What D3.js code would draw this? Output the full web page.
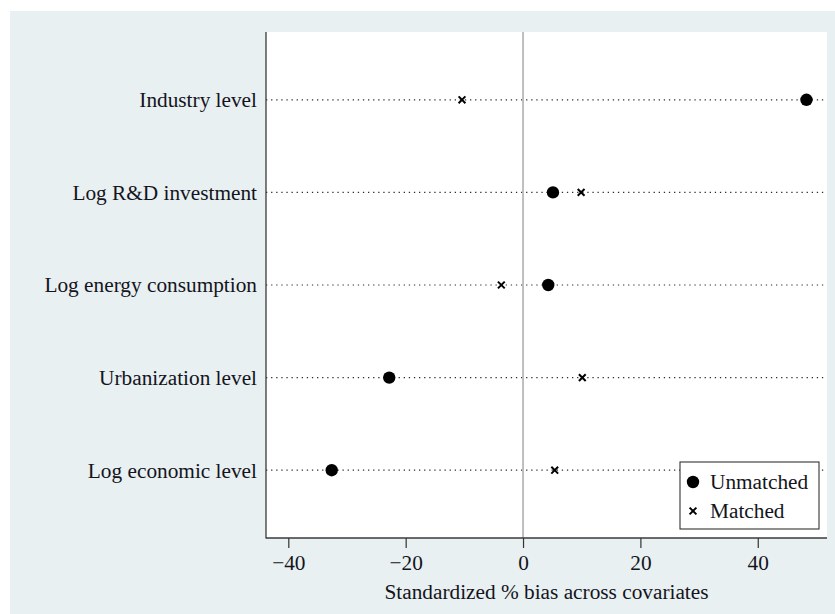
<!DOCTYPE html>
<html>
<head>
<meta charset="utf-8">
<script src="https://cdn.jsdelivr.net/npm/d3@7"></script>
<style>
  html, body { margin: 0; padding: 0; background: #ffffff; }
  svg { display: block; }
  text { font-family: "Liberation Serif", "Times New Roman", serif; fill: #14141c; }
</style>
</head>
<body>
<svg id="chart" width="835" height="614"></svg>
<script>
// Covariates, listed top to bottom
const covariates = [
  "Industry level",
  "Log R&D investment",
  "Log energy consumption",
  "Urbanization level",
  "Log economic level"
];
// Standardized % bias before matching
const unmatched = [48.3, 5.1, 4.3, -22.8, -32.6];
// Standardized % bias after matching
const matched = [-10.4, 9.9, -3.7, 10.1, 5.4];
const xTicks = [-40, -20, 0, 20, 40];
const xTitle = "Standardized % bias across covariates";
const legendLabels = ["Unmatched", "Matched"];

const FONT = "21.3px";
const svg = d3.select("#chart");
const W = 835, H = 614;
const plot = { left: 266, right: 827, top: 32, bottom: 538 };

// Figure background
svg.append("rect").attr("x", 10).attr("y", 11)
  .attr("width", W - 10).attr("height", H - 11)
  .attr("fill", "#e8f0f2");
// Plot region
svg.append("rect").attr("x", plot.left).attr("y", plot.top)
  .attr("width", plot.right - plot.left).attr("height", plot.bottom - plot.top)
  .attr("fill", "#ffffff");

const x = d3.scaleLinear().domain([-43.8, 51.8]).range([plot.left, plot.right]);
// Row positions: rank 5 at the top, rank 1 at the bottom
const y = d3.scaleLinear().domain([0.268, 5.732]).range([plot.bottom, plot.top]);
const rowY = i => y(covariates.length - i);

// Dotted guide lines for each covariate
svg.append("g").selectAll("line").data(covariates).join("line")
  .attr("x1", plot.left).attr("x2", plot.right)
  .attr("y1", (d, i) => rowY(i)).attr("y2", (d, i) => rowY(i))
  .attr("stroke", "#2e2e2e").attr("stroke-width", 1.2)
  .attr("stroke-dasharray", "1.3,3.8");

// Zero reference line
svg.append("line")
  .attr("x1", x(0)).attr("x2", x(0))
  .attr("y1", plot.top).attr("y2", plot.bottom)
  .attr("stroke", "#b8b8b8").attr("stroke-width", 1.8);

// Bottom axis
const xAxis = svg.append("g")
  .attr("transform", `translate(0,${plot.bottom})`)
  .call(d3.axisBottom(x).tickValues(xTicks).tickSize(10).tickPadding(7)
    .tickFormat(d => d < 0 ? "\u2212" + Math.abs(d) : String(d)));
xAxis.select(".domain").remove();
xAxis.selectAll(".tick line").attr("stroke", "#333").attr("stroke-width", 1.2);
xAxis.selectAll(".tick text")
  .style("font-family", "'Liberation Serif', 'Times New Roman', serif")
  .style("font-size", FONT).attr("fill", "#14141c");

// Axis lines (left and bottom)
svg.append("line").attr("x1", plot.left).attr("x2", plot.left)
  .attr("y1", plot.top).attr("y2", plot.bottom + 0.6)
  .attr("stroke", "#3a3a3a").attr("stroke-width", 1.3);
svg.append("line").attr("x1", plot.left).attr("x2", plot.right)
  .attr("y1", plot.bottom).attr("y2", plot.bottom)
  .attr("stroke", "#3a3a3a").attr("stroke-width", 1.3);

// Covariate labels
svg.append("g").selectAll("text").data(covariates).join("text")
  .attr("x", plot.left - 9).attr("y", (d, i) => rowY(i))
  .attr("dy", "0.35em").attr("text-anchor", "end")
  .style("font-size", FONT).text(d => d);

// Axis title
svg.append("text").attr("x", (385 + 708) / 2).attr("y", 599)
  .attr("text-anchor", "middle").style("font-size", FONT).text(xTitle);

const crossPath = s => `M${-s},${-s}L${s},${s}M${-s},${s}L${s},${-s}`;

// Unmatched markers
svg.append("g").selectAll("circle").data(unmatched).join("circle")
  .attr("cx", d => x(d)).attr("cy", (d, i) => rowY(i))
  .attr("r", 6.2).attr("fill", "#000");

// Matched markers
svg.append("g").selectAll("path").data(matched).join("path")
  .attr("transform", (d, i) => `translate(${x(d)},${rowY(i)})`)
  .attr("d", crossPath(3.4))
  .attr("stroke", "#000").attr("stroke-width", 2).attr("fill", "none");

// Legend
const lg = svg.append("g").attr("transform", "translate(680,462)");
lg.append("rect").attr("width", 139).attr("height", 67)
  .attr("fill", "#ffffff").attr("stroke", "#333").attr("stroke-width", 1.1);
lg.append("circle").attr("cx", 13).attr("cy", 20).attr("r", 6.2).attr("fill", "#000");
lg.append("path").attr("transform", "translate(13,49)").attr("d", crossPath(3.4))
  .attr("stroke", "#000").attr("stroke-width", 2).attr("fill", "none");
lg.selectAll("text").data(legendLabels).join("text")
  .attr("x", 30).attr("y", (d, i) => 20 + i * 29).attr("dy", "0.35em")
  .style("font-size", FONT).text(d => d);
</script>
</body>
</html>
